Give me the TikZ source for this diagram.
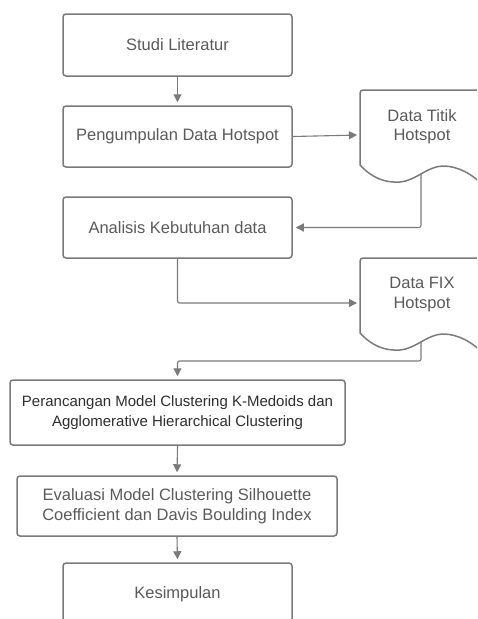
\documentclass[tikz,border=0pt]{standalone}
\usepackage{fontspec}
\setmainfont{Liberation Sans}
\usetikzlibrary{arrows.meta}
\definecolor{edge}{HTML}{7A7A7A}
\definecolor{txt}{HTML}{5A5A5A}
\definecolor{txtdark}{HTML}{2E2E2E}

\begin{document}
\begin{tikzpicture}[x=1pt,y=-1pt,
  stepbox/.style={draw=edge, line width=1.5pt, rounded corners=3pt, text=txt,
    font=\fontsize{16.5}{20}\selectfont, align=center, inner sep=0pt},
  docline/.style={draw=edge, line width=1.5pt},
  doclabel/.style={text=txt, font=\fontsize{16.5}{19.5}\selectfont, align=center, inner sep=0pt},
  flow/.style={draw=edge, line width=1.1pt, rounded corners=2pt,
    -{Triangle[length=8pt,width=8pt]}, shorten >=3pt}
]
\useasboundingbox (0,0) rectangle (477,619);
\clip (0,0) rectangle (477,619);

% process steps
\node[stepbox, minimum width=229pt, minimum height=62pt] (b1) at (177.5,45) {Studi Literatur};
\node[stepbox, minimum width=229pt, minimum height=61pt] (b2) at (177.5,136.5) {Pengumpulan Data Hotspot};
\node[stepbox, minimum width=229pt, minimum height=61pt] (b3) at (177.5,227.5) {Analisis Kebutuhan data};
\node[stepbox, minimum width=335pt, minimum height=65pt, text=txtdark,
      font=\fontsize{15}{20}\selectfont] (b4) at (177.5,412.5)
      {Perancangan Model Clustering K-Medoids dan\\Agglomerative Hierarchical Clustering};
\node[stepbox, minimum width=320pt, minimum height=60pt] (b5) at (177,506)
      {Evaluasi Model Clustering Silhouette\\[0pt]Coefficient dan Davis Boulding Index};
\node[stepbox, minimum width=229pt, minimum height=62pt] (b6) at (177.5,594) {Kesimpulan};

% document shapes
\draw[docline] (360,165) [rounded corners=3pt] -- (360,90) -- (490,90);
\draw[docline] (360,165) .. controls (372,178) and (385,183) .. (400,182)
  .. controls (415,181) and (428,166) .. (443,166)
  .. controls (458,166) and (472,174) .. (484,186);
\node[doclabel] (d1) at (422,126.5) {Data Titik\\Hotspot};
\coordinate (d1in) at (360,135);
\coordinate (d1out) at (421,174);

\draw[docline] (360,333) [rounded corners=3pt] -- (360,258) -- (490,258);
\draw[docline] (360,333) .. controls (372,346) and (385,351) .. (400,350)
  .. controls (415,349) and (428,334) .. (443,334)
  .. controls (458,334) and (472,342) .. (484,354);
\node[doclabel] (d2) at (422,294.5) {Data FIX\\Hotspot};
\coordinate (d2in) at (360,303);
\coordinate (d2out) at (421,342);
\coordinate (j2) at (177.5,361);

% connectors
\draw[flow] (b1.south) -- (b2.north);
\draw[flow] (b2.east) -- (d1in);
\draw[flow] (d1out) |- (b3.east);
\draw[flow] (b3.south) |- (d2in);
\draw[flow] (d2out) |- (j2) -- (b4.north);
\draw[flow] (b4.south) -- (b5.north);
\draw[flow] (b5.south) -- (b6.north);
\end{tikzpicture}
\end{document}
